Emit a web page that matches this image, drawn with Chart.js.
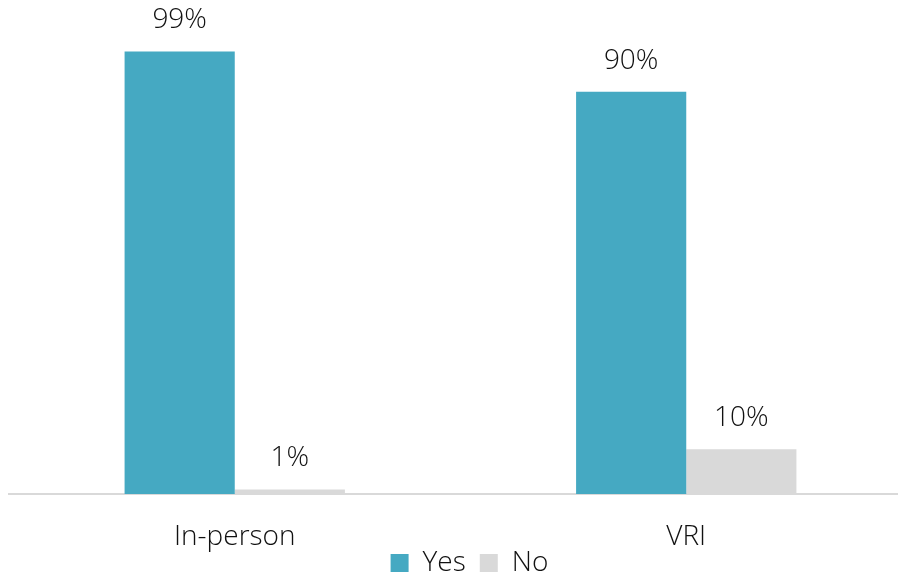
<!DOCTYPE html>
<html>
<head>
<meta charset="utf-8">
<script src="https://cdn.jsdelivr.net/npm/chart.js@4/dist/chart.umd.min.js"></script>
<style>
  html, body { margin: 0; padding: 0; background: #fff; overflow: hidden; }
  #wrap { width: 914px; height: 576px; }
</style>
</head>
<body>
<div id="wrap"><canvas id="myChart"></canvas></div>
<script>
// Chart data
const categories = ['In-person', 'VRI'];
const yesValues = [99, 90];
const noValues = [1, 10];
const seriesNames = ['Yes', 'No'];

const FONT = '"Open Sans", "Noto Sans", sans-serif';

// Draw value labels above each bar
const valueLabels = {
    id: 'valueLabels',
    afterDatasetsDraw(chart) {
        const c = chart.ctx;
        c.save();
        c.font = '300 28px ' + FONT;
        c.fillStyle = '#111';
        c.textAlign = 'center';
        c.textBaseline = 'middle';
        chart.data.datasets.forEach((ds, i) => {
            chart.getDatasetMeta(i).data.forEach((bar, j) => {
                c.fillText(ds.data[j] + '%', bar.x, bar.y - 31);
            });
        });
        c.restore();
    }
};

// Legend takes no room in the layout; it is placed under the category labels
const moveLegend = {
    id: 'moveLegend',
    afterLayout(chart) {
        const lg = chart.legend;
        const h = lg._realHeight || 0;
        lg.top = 561 - h / 2;
        lg.bottom = lg.top + h;
        lg.left += 9;
        lg.right += 9;
    }
};

const ctx = document.getElementById('myChart').getContext('2d');
const myChart = new Chart(ctx, {
    type: 'bar',
    data: {
        labels: categories,
        datasets: [
            {
                label: seriesNames[0],
                data: yesValues,
                backgroundColor: '#45A9C2',
                categoryPercentage: 0.488,
                barPercentage: 1
            },
            {
                label: seriesNames[1],
                data: noValues,
                backgroundColor: '#D9D9D9',
                categoryPercentage: 0.488,
                barPercentage: 1
            }
        ]
    },
    options: {
        responsive: true,
        maintainAspectRatio: false,
        animation: false,
        layout: { padding: { left: 9, right: 2, top: 47, bottom: 0 } },
        scales: {
            x: {
                grid: { display: false, drawTicks: false },
                border: { display: true, color: '#D9D9D9', width: 2 },
                ticks: { color: '#111', font: { size: 28, family: FONT, weight: 300 }, padding: 26 },
                afterFit(scale) {
                    scale.height = 576 - 494;
                }
            },
            y: {
                min: 0,
                max: 100,
                display: false
            }
        },
        plugins: {
            legend: {
                position: 'top',
                labels: {
                    color: '#111',
                    font: { size: 28, family: FONT, weight: 300 },
                    boxWidth: 18,
                    boxHeight: 18,
                    padding: 14
                }
            },
            tooltip: { enabled: false }
        }
    },
    plugins: [valueLabels, moveLegend]
});

const legendFit = myChart.legend.fit;
myChart.legend.fit = function () {
    legendFit.call(this);
    this._realHeight = this.height;
    this.height = 0;
};
myChart.update();
</script>
</body>
</html>
